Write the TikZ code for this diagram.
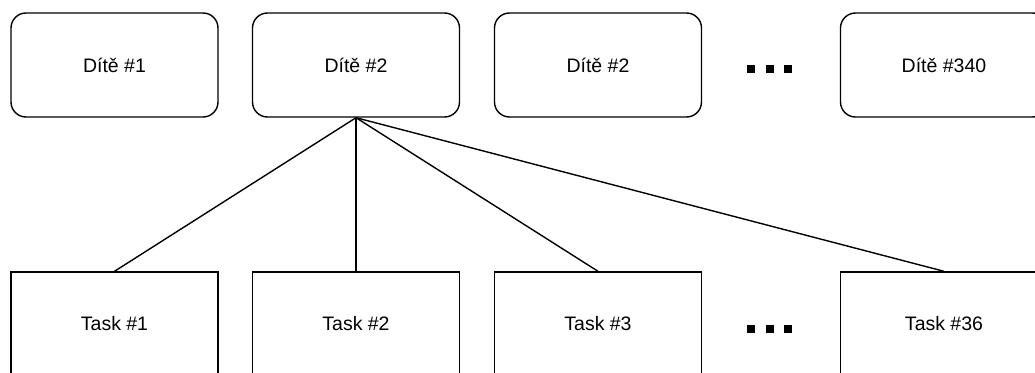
\documentclass[tikz,border=0pt]{standalone}
\usepackage{fontspec}
\setmainfont{Liberation Sans}
\begin{document}
\begin{tikzpicture}[x=1pt,y=-1pt,
  child/.style={draw=black,line width=1.4pt,rounded corners=15pt,minimum width=207pt,minimum height=104pt,inner sep=0pt,font=\fontsize{19.5}{23}\selectfont},
  task/.style={draw=black,line width=1.4pt,minimum width=207pt,minimum height=104pt,inner sep=0pt,font=\fontsize{19.5}{23}\selectfont},
  dot/.style={fill=black,inner sep=0pt,minimum size=8pt},
  link/.style={draw=black,line width=1.4pt}]
\useasboundingbox (0,0) rectangle (1035,372);
\node[child] (d1) at (114.5,65) {Dítě \#1};
\node[child] (d2) at (356,65) {Dítě \#2};
\node[child] (d3) at (598,65) {Dítě \#2};
\node[child] (d4) at (944,65) {Dítě \#340};
\node[dot] (a1) at (750.5,69) {};
\node[dot] (a2) at (770,69) {};
\node[dot] (a3) at (788,69) {};
\node[task] (t1) at (114.5,324) {Task \#1};
\node[task] (t2) at (356,324) {Task \#2};
\node[task] (t3) at (598,324) {Task \#3};
\node[task] (t4) at (944,324) {Task \#36};
\node[dot] (b1) at (750.5,329) {};
\node[dot] (b2) at (770,329) {};
\node[dot] (b3) at (788,329) {};
\draw[link] (d2.south) -- (t1.north);
\draw[link] (d2.south) -- (t2.north);
\draw[link] (d2.south) -- (t3.north);
\draw[link] (d2.south) -- (t4.north);
\end{tikzpicture}
\end{document}
